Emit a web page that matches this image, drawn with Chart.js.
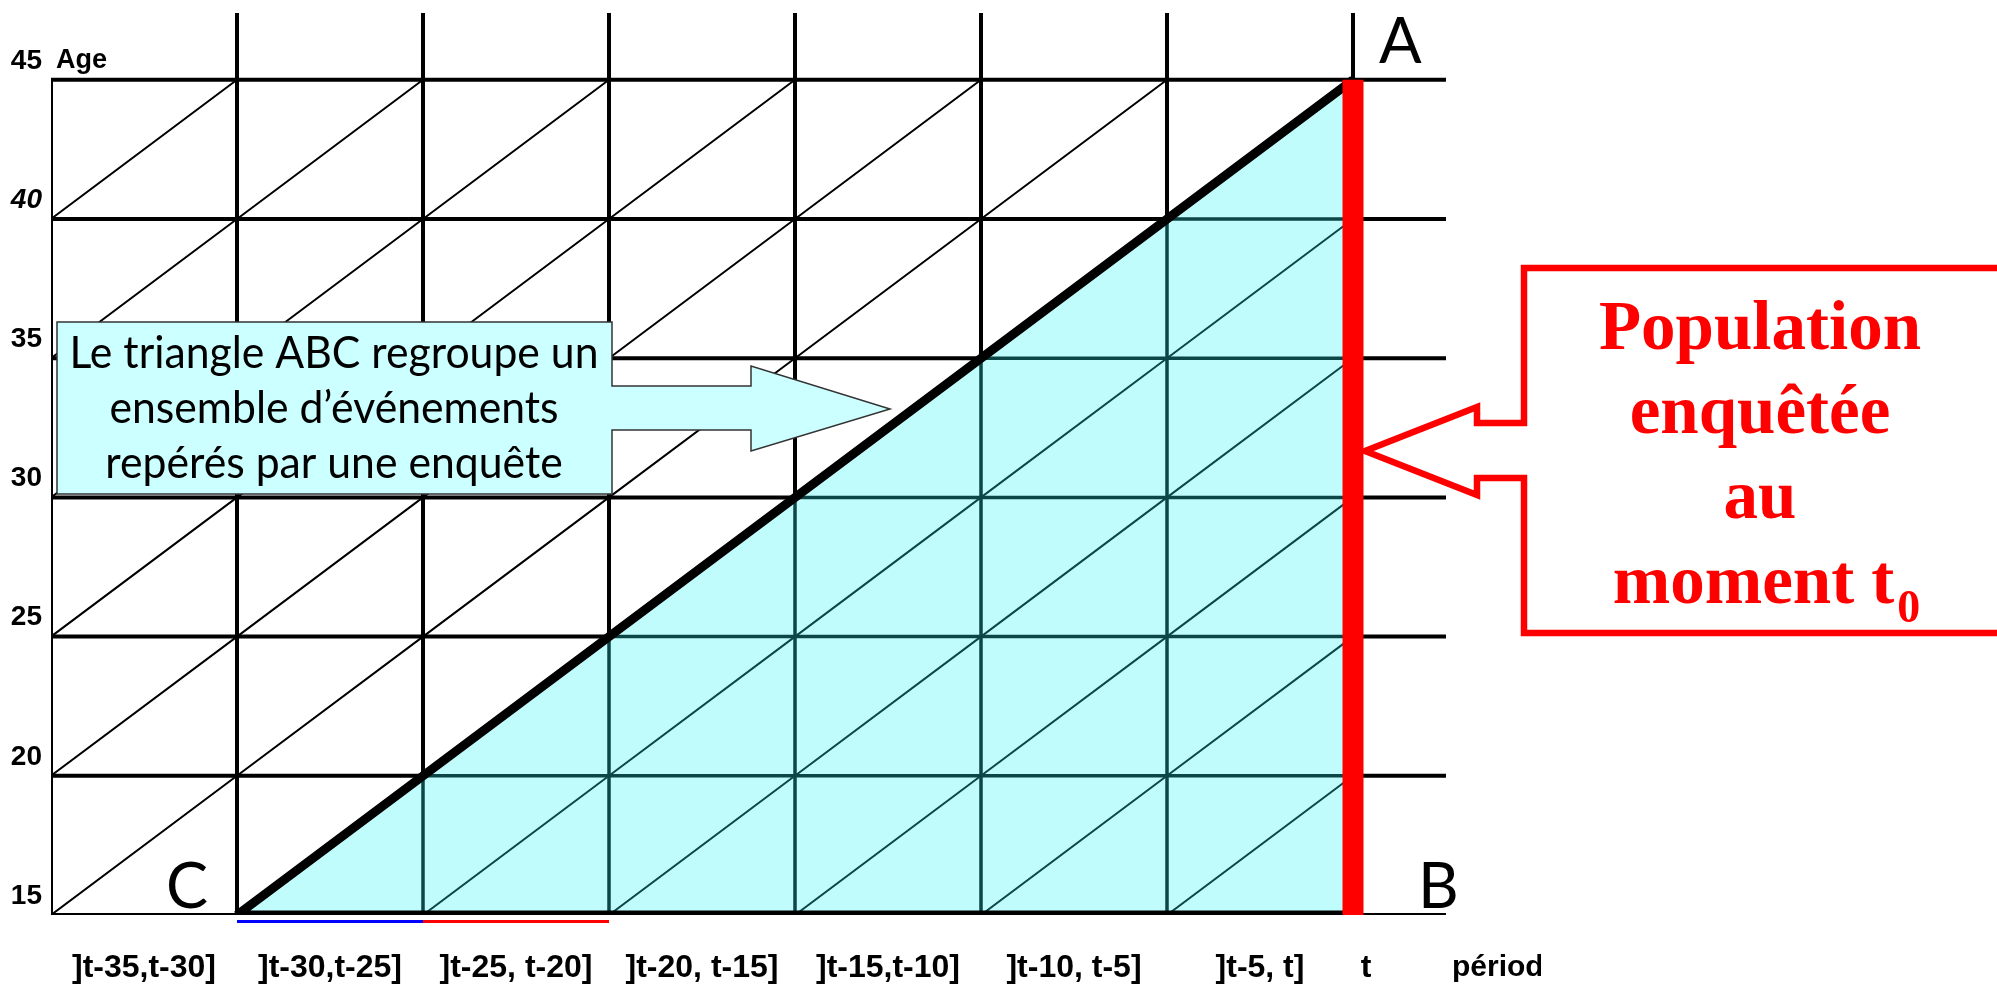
<!DOCTYPE html>
<html lang="fr">
<head>
<meta charset="utf-8">
<title>Diagramme de Lexis – triangle ABC</title>
<script src="https://cdn.jsdelivr.net/npm/chart.js@4.4.1/dist/chart.umd.min.js"></script>
<style>
  html, body { margin: 0; padding: 0; background: #fff; }
  #lexis { display: block; }
</style>
</head>
<body>
<canvas id="lexis" width="1997" height="984"></canvas>
<script>
// périodes quinquennales : 0 = t-35 ... 7 = t
const periodLabels = [']t-35,t-30]', ']t-30,t-25]', ']t-25, t-20]', ']t-20, t-15]', ']t-15,t-10]', ']t-10, t-5]', ']t-5, t]'];
const periodTicks = [0.5, 1.5, 2.5, 3.5, 4.5, 5.5, 6.5];
const periodBounds = [0, 1, 2, 3, 4, 5, 6, 7];
const ageTicks = [15, 20, 25, 30, 35, 40, 45];
const ageStep = 5;

// sommets du triangle ABC
const pointA = { x: 7, y: 45 };
const pointB = { x: 7, y: 15 };
const pointC = { x: 1, y: 15 };

// périodes soulignées sur l'axe (début de période)
const underlinedPeriods = [1, 2];

const boxLines = ['Le triangle ABC regroupe un', 'ensemble d\u2019\u00e9v\u00e9nements', 'rep\u00e9r\u00e9s par une enqu\u00eate'];
const redLines = ['Population', 'enqu\u00eat\u00e9e', 'au', 'moment t'];

// --- styles ---
const X_MAX = 7.5;
const Y_MAX = 47.4;
const CYAN = '#c0fcfc';
const TEAL = '#0c4646';
const RED = '#ff0000';
const underlineColors = ['#0000ff', '#ff0000'];
const tickFont = 'Liberation Sans, Arial, sans-serif';

const ageMin = ageTicks[0];
const ageMax = ageTicks[ageTicks.length - 1];
const hypoAge = (x) => pointC.y + (x - pointC.x) * (pointA.y - pointC.y) / (pointA.x - pointC.x);
const hypoX = (age) => pointC.x + (age - pointC.y) * (pointA.x - pointC.x) / (pointA.y - pointC.y);

const GAP = { x: NaN, y: NaN };
const blackGrid = [], tealGrid = [], blackDiag = [], tealDiag = [];
const seg = (arr, x1, y1, x2, y2) => { arr.push({ x: x1, y: y1 }, { x: x2, y: y2 }, GAP); };

// lignes d'âge
ageTicks.forEach(a => {
  if (a === ageMin) {
    seg(blackGrid, periodBounds[0], a, pointC.x, a);
  } else {
    const xh = Math.min(hypoX(a), pointB.x);
    seg(blackGrid, periodBounds[0], a, xh, a);
    if (xh < pointB.x) seg(tealGrid, xh, a, pointB.x, a);
  }
  seg(blackGrid, pointB.x, a, X_MAX, a);
});

// lignes de période
periodBounds.forEach(p => {
  const top = p === periodBounds[0] ? ageMax : Y_MAX;
  if (p <= pointC.x || p >= pointB.x) {
    seg(blackGrid, p, ageMin, p, top);
  } else {
    const yh = hypoAge(p);
    seg(tealGrid, p, ageMin, p, yh);
    seg(blackGrid, p, yh, p, top);
  }
});

// diagonales (lignes de vie)
periodBounds.slice(0, -1).forEach(p => {
  ageTicks.slice(0, -1).forEach(a => {
    const off = a - hypoAge(p);
    if (off > 0) seg(blackDiag, p, a, p + 1, a + ageStep);
    else if (off < 0) seg(tealDiag, p, a, p + 1, a + ageStep);
  });
});

const lineDs = (data, color, width, order) => ({
  data, borderColor: color, borderWidth: width, order,
  pointRadius: 0, fill: false, spanGaps: false, tension: 0, borderCapStyle: 'butt'
});

const datasets = [
  { data: [pointC, pointA], borderWidth: 0, backgroundColor: CYAN, fill: 'start', pointRadius: 0, order: 7 },
  lineDs(blackGrid, '#000', 4, 6),
  lineDs(blackDiag, '#000', 2, 5),
  lineDs(tealGrid, TEAL, 3.5, 4),
  lineDs(tealDiag, TEAL, 2, 3),
  Object.assign(lineDs([pointA, pointC, pointB], '#000', 9, 2), { borderJoinStyle: 'bevel' }),
  lineDs([pointB, pointA], RED, 21, 1)
];

function calloutPath(ctx, pts) {
  ctx.beginPath();
  pts.forEach(([px, py], i) => i ? ctx.lineTo(px, py) : ctx.moveTo(px, py));
  ctx.closePath();
}

const annotations = {
  id: 'annotations',
  afterDraw(chart) {
    const { ctx, scales: { x, y } } = chart;
    const base = y.getPixelForValue(ageMin);
    ctx.save();

    // soulignements de l'axe des périodes
    underlinedPeriods.forEach((p, i) => {
      ctx.strokeStyle = underlineColors[i];
      ctx.lineWidth = 3;
      ctx.beginPath();
      ctx.moveTo(x.getPixelForValue(p), base + 6.5);
      ctx.lineTo(x.getPixelForValue(p + 1), base + 6.5);
      ctx.stroke();
    });

    // "Age", "t", "période"
    ctx.fillStyle = '#000';
    ctx.textBaseline = 'middle';
    ctx.textAlign = 'left';
    ctx.font = 'bold 27px ' + tickFont;
    ctx.fillText('Age', x.getPixelForValue(0) + 5, y.getPixelForValue(ageMax) - 19);
    ctx.font = 'bold 32px ' + tickFont;
    ctx.textAlign = 'center';
    ctx.fillText('t', x.getPixelForValue(pointB.x) + 13, 968);
    ctx.save();
    ctx.beginPath();
    ctx.rect(0, 0, 1541, chart.height);
    ctx.clip();
    ctx.textAlign = 'left';
    ctx.font = 'bold 30px ' + tickFont;
    ctx.fillText('p\u00e9riode', x.getPixelForValue(X_MAX) + 6, 968);
    ctx.restore();

    // lettres A, B, C
    ctx.font = '63px Lato, sans-serif';
    ctx.textAlign = 'left';
    ctx.textBaseline = 'alphabetic';
    ctx.fillText('A', x.getPixelForValue(pointA.x) + 26, y.getPixelForValue(pointA.y) - 17);
    ctx.fillText('B', x.getPixelForValue(pointB.x) + 65, base - 7);
    ctx.fillText('C', x.getPixelForValue(pointC.x) - 71, base - 7);

    // bulle cyan
    calloutPath(ctx, [[57, 322], [612, 322], [612, 386], [751, 386], [751, 366], [890, 409],
      [751, 451], [751, 430], [612, 430], [612, 494], [57, 494]]);
    ctx.fillStyle = '#ccffff';
    ctx.fill();
    ctx.lineWidth = 1.5;
    ctx.strokeStyle = '#333';
    ctx.stroke();

    // texte de la bulle, un peu condensé comme le Calibri d'origine
    ctx.font = '45px Lato, sans-serif';
    const sx = 529 / ctx.measureText(boxLines[0]).width;
    ctx.fillStyle = '#000';
    ctx.textAlign = 'center';
    [368, 423, 478].forEach((by, i) => {
      ctx.save();
      ctx.translate(334, by);
      ctx.scale(sx, 1);
      ctx.fillText(boxLines[i], 0, 0);
      ctx.restore();
    });

    // bulle rouge
    calloutPath(ctx, [[2010, 268], [1524, 268], [1524, 423], [1477, 423], [1477, 407], [1365, 451],
      [1477, 495], [1477, 478], [1524, 478], [1524, 633], [2010, 633]]);
    ctx.fillStyle = '#fff';
    ctx.fill();
    ctx.lineWidth = 6.5;
    ctx.strokeStyle = RED;
    ctx.lineJoin = 'miter';
    ctx.stroke();

    ctx.fillStyle = RED;
    ctx.font = 'bold 69px "Liberation Serif", "Times New Roman", serif';
    [349, 433, 518].forEach((by, i) => ctx.fillText(redLines[i], 1760, by));
    const w1 = ctx.measureText(redLines[3]).width;
    ctx.font = 'bold 46px "Liberation Serif", "Times New Roman", serif';
    const w2 = ctx.measureText('0').width;
    const left = 1765 - (w1 + w2) / 2;
    ctx.textAlign = 'left';
    ctx.fillText('0', left + w1 + 3, 622);
    ctx.font = 'bold 69px "Liberation Serif", "Times New Roman", serif';
    ctx.fillText(redLines[3], left, 603);

    ctx.restore();
  }
};

new Chart(document.getElementById('lexis'), {
  type: 'line',
  data: { datasets },
  plugins: [annotations],
  options: {
    responsive: false,
    devicePixelRatio: 1,
    animation: false,
    events: [],
    layout: { padding: { top: 13, right: 551, bottom: 0, left: 0 } },
    plugins: { legend: { display: false }, tooltip: { enabled: false } },
    scales: {
      x: {
        type: 'linear',
        min: 0,
        max: X_MAX,
        grid: { display: false, drawTicks: false },
        border: { display: false },
        afterBuildTicks: (scale) => { scale.ticks = periodTicks.map(v => ({ value: v })); },
        afterFit: (scale) => { scale.height = 69; scale.paddingLeft = 0; scale.paddingRight = 0; },
        ticks: {
          autoSkip: false,
          maxRotation: 0,
          padding: 34,
          color: '#000',
          font: { family: tickFont, size: 32, weight: 'bold' },
          callback: (value, index) => periodLabels[index]
        }
      },
      y: {
        type: 'linear',
        min: ageMin,
        max: Y_MAX,
        grid: { display: false, drawTicks: false },
        border: { display: false },
        afterBuildTicks: (scale) => { scale.ticks = ageTicks.map(v => ({ value: v })); },
        afterFit: (scale) => { scale.width = 51; scale.paddingTop = 0; scale.paddingBottom = 0; },
        ticks: {
          padding: 9,
          labelOffset: -19,
          color: '#000',
          font: (c) => ({ family: tickFont, size: 28, weight: 'bold', style: c.tick && c.tick.value === 40 ? 'italic' : 'normal' }),
          callback: (value) => String(value)
        }
      }
    }
  }
});
</script>
</body>
</html>
